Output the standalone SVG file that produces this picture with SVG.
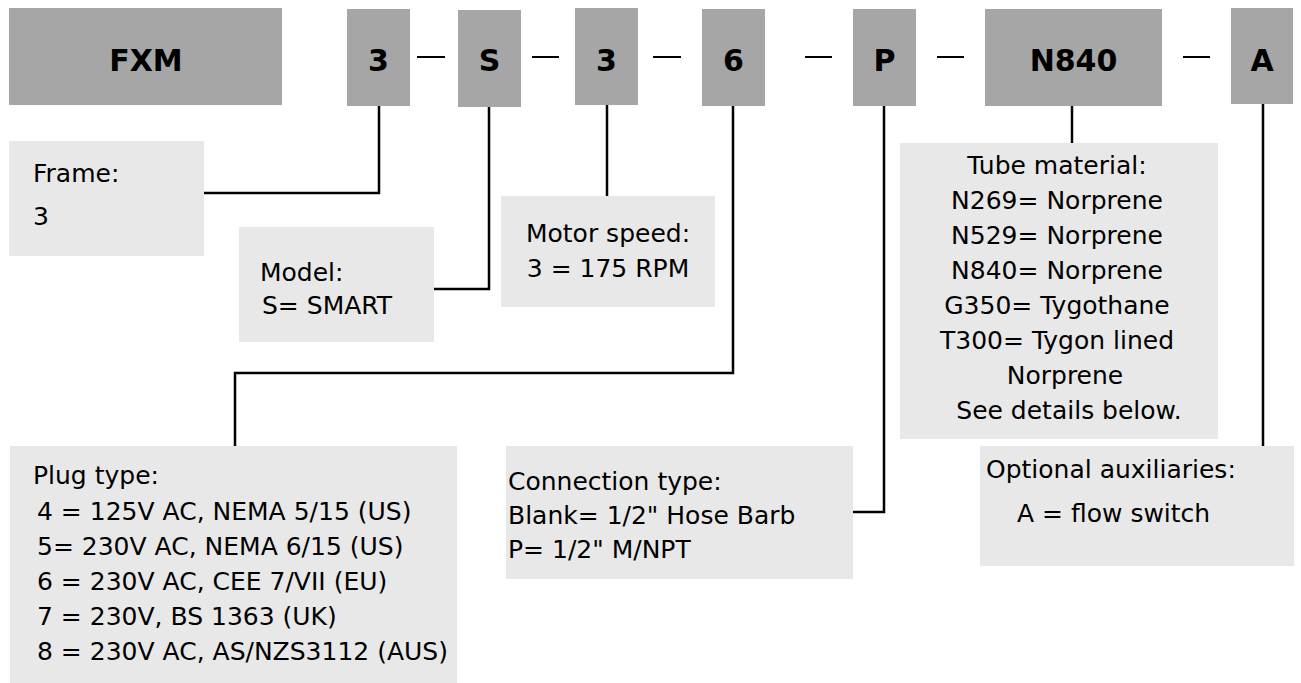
<svg xmlns="http://www.w3.org/2000/svg" width="1301" height="683" viewBox="0 0 1301 683">
<style>
.code{fill:#a6a6a6}
.note{fill:#e8e8e8}
.ct{font-family:"DejaVu Sans",sans-serif;font-weight:bold;font-size:30px;fill:#000;text-anchor:middle}
.t{font-family:"DejaVu Sans",sans-serif;font-size:25px;fill:#000}
.m{text-anchor:middle}
.ln{fill:none;stroke:#000;stroke-width:2.5}
.dash{stroke:#000;stroke-width:2}
</style>
<rect width="1301" height="683" fill="#fff"/>
<g id="connectors">
<line class="dash" x1="417" y1="57" x2="445" y2="57"/>
<line class="dash" x1="532" y1="57" x2="559" y2="57"/>
<line class="dash" x1="653" y1="57" x2="681" y2="57"/>
<line class="dash" x1="805" y1="57" x2="832" y2="57"/>
<line class="dash" x1="937" y1="57" x2="964" y2="57"/>
<line class="dash" x1="1183" y1="57" x2="1210" y2="57"/>
<polyline class="ln" points="379,106 379,193 204,193"/>
<polyline class="ln" points="489,107 489,289 434,289"/>
<polyline class="ln" points="607,105 607,196"/>
<polyline class="ln" points="733,106 733,373 235,373 235,446"/>
<polyline class="ln" points="884,106 884,512 853,512"/>
<polyline class="ln" points="1072,106 1072,143"/>
<polyline class="ln" points="1263,104 1263,446"/>
</g>
<g id="code-FXM"><rect class="code" x="9" y="8" width="273" height="97"/><text class="ct" x="146" y="71">FXM</text></g>
<g id="code-frame"><rect class="code" x="347" y="9" width="63" height="97"/><text class="ct" x="378.5" y="71">3</text></g>
<g id="code-model"><rect class="code" x="458" y="10" width="63" height="97"/><text class="ct" x="489.5" y="71">S</text></g>
<g id="code-speed"><rect class="code" x="575" y="8" width="63" height="97"/><text class="ct" x="606.5" y="71">3</text></g>
<g id="code-plug"><rect class="code" x="702" y="9" width="63" height="97"/><text class="ct" x="733.5" y="71">6</text></g>
<g id="code-conn"><rect class="code" x="853" y="9" width="63" height="97"/><text class="ct" x="884.5" y="71">P</text></g>
<g id="code-tube"><rect class="code" x="985" y="9" width="177" height="97"/><text class="ct" x="1073.5" y="71">N840</text></g>
<g id="code-aux"><rect class="code" x="1231" y="8" width="62" height="96"/><text class="ct" x="1262" y="71">A</text></g>
<g id="note-frame"><rect class="note" x="9" y="141" width="195" height="115"/>
<text class="t" x="33" y="182">Frame:</text><text class="t" x="33" y="225">3</text></g>
<g id="note-model"><rect class="note" x="239" y="227" width="195" height="115"/>
<text class="t" x="260" y="281">Model:</text><text class="t" x="262" y="314">S= SMART</text></g>
<g id="note-speed"><rect class="note" x="501" y="196" width="214" height="111"/>
<text class="t m" x="608" y="242">Motor speed:</text><text class="t m" x="608" y="277">3 = 175 RPM</text></g>
<g id="note-tube"><rect class="note" x="900" y="143" width="318" height="296"/>
<text class="t m" x="1057" y="174">Tube material:</text>
<text class="t m" x="1057" y="209">N269= Norprene</text>
<text class="t m" x="1057" y="244">N529= Norprene</text>
<text class="t m" x="1057" y="279">N840= Norprene</text>
<text class="t m" x="1057" y="314">G350= Tygothane</text>
<text class="t m" x="1057" y="349">T300= Tygon lined</text>
<text class="t m" x="1065" y="384">Norprene</text>
<text class="t m" x="1069" y="419">See details below.</text></g>
<g id="note-plug"><rect class="note" x="10" y="446" width="447" height="237"/>
<text class="t" x="33" y="484">Plug type:</text>
<text class="t" x="37" y="520">4 = 125V AC, NEMA 5/15 (US)</text>
<text class="t" x="37" y="555">5= 230V AC, NEMA 6/15 (US)</text>
<text class="t" x="37" y="590">6 = 230V AC, CEE 7/VII (EU)</text>
<text class="t" x="37" y="625">7 = 230V, BS 1363 (UK)</text>
<text class="t" x="37" y="660">8 = 230V AC, AS/NZS3112 (AUS)</text></g>
<g id="note-conn"><rect class="note" x="506" y="446" width="347" height="133"/>
<text class="t" x="508" y="490">Connection type:</text>
<text class="t" x="508" y="524">Blank= 1/2" Hose Barb</text>
<text class="t" x="508" y="558">P= 1/2" M/NPT</text></g>
<g id="note-aux"><rect class="note" x="980" y="446" width="314" height="120"/>
<text class="t" x="986" y="478">Optional auxiliaries:</text>
<text class="t" x="1017" y="522">A = flow switch</text></g>
</svg>
